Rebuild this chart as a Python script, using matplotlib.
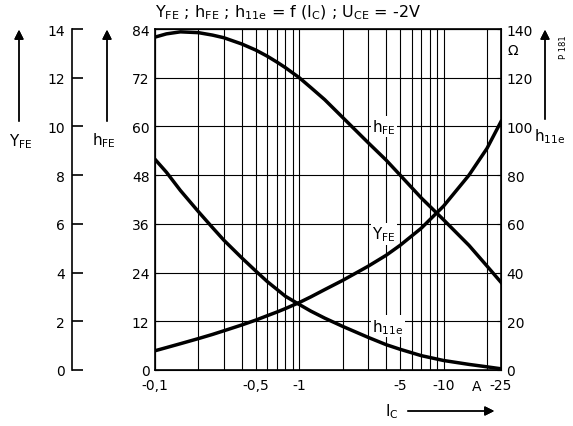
import numpy as np
import matplotlib.pyplot as plt
from matplotlib import ticker

plt.rcParams.update({'font.size': 10, 'font.family': 'DejaVu Sans',
                     'mathtext.default': 'regular'})

# collector current magnitude (A), plotted on log axis
ic = [0.1, 0.12, 0.15, 0.2, 0.25, 0.3, 0.4, 0.5, 0.6, 0.7, 0.8, 1, 1.2, 1.5,
      2, 3, 4, 5, 7, 10, 15, 20, 25]
# current gain h_FE (left inner axis)
h_fe = [82.0, 82.8, 83.3, 83.1, 82.5, 81.85, 80.3, 78.8, 77.3, 75.85, 74.5,
        72.0, 69.6, 66.6, 62.2, 56.0, 51.7, 48.0, 42.4, 37.0, 30.7, 25.6, 21.6]
# transconductance Y_FE (left outer axis)
y_fe = [0.79, 0.92, 1.08, 1.29, 1.46, 1.61, 1.85, 2.05, 2.23, 2.38, 2.52,
        2.77, 3.0, 3.30, 3.68, 4.26, 4.71, 5.12, 5.82, 6.73, 8.0, 9.1, 10.2]
# input impedance h_11e in Ohm (right axis)
h_11e = [86.5, 81.2, 73.7, 65.0, 58.5, 53.3, 46.0, 40.6, 36.3, 33.1, 30.3,
         26.9, 24.2, 21.3, 17.9, 13.4, 10.4, 8.5, 5.9, 3.9, 2.3, 1.3, 0.5]

xticks = [0.1, 0.5, 1, 5, 10, 25]
xticklabels = ['-0,1', '-0,5', '-1', '-5', '-10', '-25']
xgrid_minor = [0.2, 0.3, 0.4, 0.6, 0.7, 0.8, 0.9, 2, 3, 4, 6, 7, 8, 9, 20]

W, H = 573, 427


def fp(x, y):
    # pixel position (from top-left) -> figure fraction
    return (x / W, 1 - y / H)


fig = plt.figure(figsize=(W / 100, H / 100), dpi=100)
ax = fig.add_axes([155 / W, 1 - 371 / H, 346 / W, 341 / H])

ax.set_xscale('log')
ax.set_xlim(0.1, 25)
ax.set_ylim(0, 84)
ax.set_xticks(xticks)
ax.set_xticklabels(xticklabels)
ax.xaxis.set_minor_locator(ticker.FixedLocator(xgrid_minor))
ax.xaxis.set_minor_formatter(ticker.NullFormatter())
ax.tick_params(axis='x', which='both', length=0, pad=6, labelsize=10)
ax.set_yticks(np.arange(0, 85, 12))
ax.tick_params(axis='y', direction='in', length=3, pad=4, labelsize=10)
ax.grid(True, which='both', color='k', lw=0.8)
for s in ax.spines.values():
    s.set_linewidth(1.2)

ax.plot(ic, h_fe, color='k', lw=2.5, solid_joinstyle='round')

# right axis: h11e
ax2 = ax.twinx()
ax2.set_ylim(0, 140)
ax2.set_yticks(np.arange(0, 141, 20))
ax2.tick_params(axis='y', direction='in', length=3, pad=4, labelsize=10)
ax2.plot(ic, h_11e, color='k', lw=2.5, solid_joinstyle='round')

# outer left axis: Y_FE
ax3 = ax.twinx()
ax3.set_ylim(0, 14)
ax3.spines['left'].set_position(('axes', -0.241))
ax3.spines['left'].set_linewidth(1.2)
for side in ['right', 'top', 'bottom']:
    ax3.spines[side].set_visible(False)
ax3.yaxis.set_ticks_position('left')
ax3.yaxis.set_label_position('left')
ax3.set_yticks(np.arange(0, 15, 2))
ax3.tick_params(axis='y', direction='in', length=8, width=1.2, pad=5, labelsize=10)
ax3.plot(ic, y_fe, color='k', lw=2.5, solid_joinstyle='round')

# curve labels
bb = dict(facecolor='white', edgecolor='none', pad=1)
ax.text(3.2, 60, '$h_{FE}$', fontsize=11, va='center', ha='left', bbox=bb)
ax.text(3.2, 33.5, '$Y_{FE}$', fontsize=11, va='center', ha='left', bbox=bb)
ax.text(3.2, 10.8, '$h_{11e}$', fontsize=11, va='center', ha='left', bbox=bb)
ax.text(16.9, -2.1, 'A', ha='center', va='top', fontsize=10)

# title
fig.text(*fp(155, 13), '$Y_{FE}$ ; $h_{FE}$ ; $h_{11e}$ = f (I$_C$) ; U$_{CE}$ = -2V',
         ha='left', va='center', fontsize=11.5)

# right unit
fig.text(*fp(513, 51), 'Ω', ha='center', va='center', fontsize=10)

arrow = dict(arrowstyle='-|>', color='k', lw=1, mutation_scale=14)

# axis arrows with names
fig.add_artist(plt.annotate('', xy=fp(19, 28), xytext=fp(19, 125),
                            xycoords='figure fraction', arrowprops=arrow))
fig.text(*fp(21, 142), '$Y_{FE}$', ha='center', va='center', fontsize=11)
fig.add_artist(plt.annotate('', xy=fp(107, 28), xytext=fp(107, 125),
                            xycoords='figure fraction', arrowprops=arrow))
fig.text(*fp(104, 141), '$h_{FE}$', ha='center', va='center', fontsize=11)
fig.add_artist(plt.annotate('', xy=fp(545, 28), xytext=fp(545, 123),
                            xycoords='figure fraction', arrowprops=arrow))
fig.text(*fp(550, 137), '$h_{11e}$', ha='center', va='center', fontsize=11)
fig.text(*fp(563, 47), 'P 181', rotation=90, ha='center', va='center', fontsize=6)

fig.add_artist(plt.annotate('', xy=fp(497, 412), xytext=fp(405, 412),
                            xycoords='figure fraction', arrowprops=arrow))
fig.text(*fp(392, 412), '$I_C$', ha='center', va='center', fontsize=11)

fig.savefig('out.png', dpi=100)
